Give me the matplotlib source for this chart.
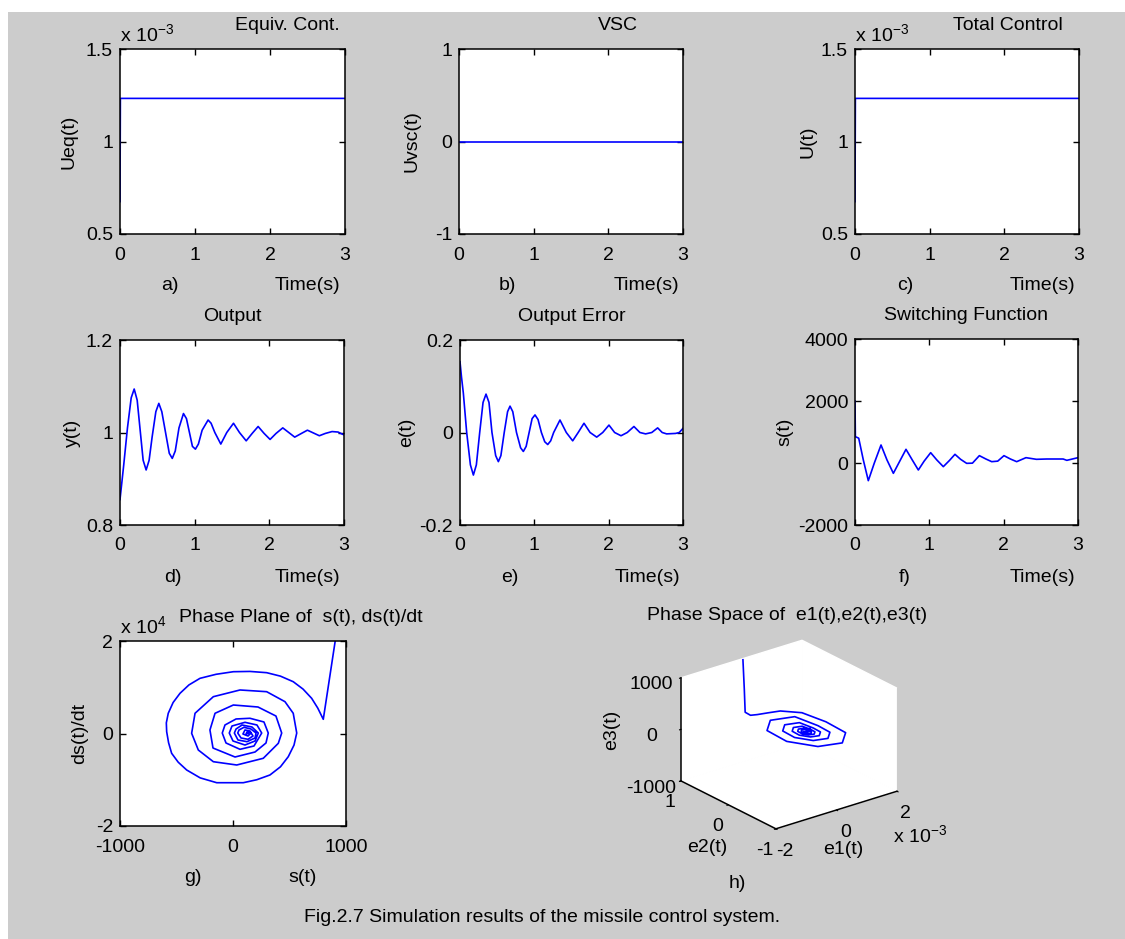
import numpy as np
import matplotlib
matplotlib.use('Agg')
import matplotlib.pyplot as plt
from matplotlib.patches import Rectangle

W, H = 1125, 939
FAM = ['Liberation Sans', 'DejaVu Sans']
FS = 14
plt.rcParams['font.family'] = FAM
plt.rcParams['font.size'] = FS
plt.rcParams['axes.unicode_minus'] = False
plt.rcParams['mathtext.fontset'] = 'custom'
plt.rcParams['mathtext.rm'] = FAM[0]
plt.rcParams['mathtext.default'] = 'regular'

BG = '#cccccc'
BLUE = '#0000ff'

# ---- data ----
# a) / c) equivalent and total control (values in units of 1e-3)
t_u = [0.0, 0.005, 3.0]
ueq = [0.675, 1.233, 1.233]
utot = [0.675, 1.233, 1.233]
# b) vsc
t_vsc = [0.0, 3.0]
uvsc = [0.0, 0.0]

# d) output
t_y = [0.00, 0.05, 0.10, 0.15, 0.19, 0.23, 0.27, 0.31, 0.35, 0.39, 0.43, 0.48,
       0.52, 0.56, 0.61, 0.66, 0.70, 0.74, 0.79, 0.85, 0.89, 0.93, 0.97, 1.01,
       1.05, 1.10, 1.18, 1.22, 1.27, 1.35, 1.43, 1.52, 1.60, 1.69, 1.77, 1.85,
       1.93, 2.01, 2.09, 2.18, 2.26, 2.34, 2.43, 2.51, 2.59, 2.67, 2.75, 2.84,
       2.92, 2.97, 3.00]
y_out = [0.855, 0.93, 1.01, 1.075, 1.094, 1.07, 1.005, 0.94, 0.919, 0.94, 0.99, 1.045,
         1.063, 1.045, 1.00, 0.955, 0.944, 0.96, 1.01, 1.041, 1.03, 1.00, 0.97, 0.964,
         0.975, 1.005, 1.027, 1.02, 1.00, 0.975, 1.00, 1.020, 1.00, 0.982, 0.998, 1.013,
         0.998, 0.985, 0.998, 1.010, 1.00, 0.990, 0.998, 1.005, 0.999, 0.993, 0.998, 1.002,
         1.001, 0.997, 0.995]

# e) output error
t_e = [0.00, 0.02, 0.045, 0.09, 0.14, 0.18, 0.22, 0.265, 0.31, 0.35, 0.39, 0.43,
       0.48, 0.516, 0.55, 0.595, 0.64, 0.673, 0.71, 0.76, 0.815, 0.852, 0.89, 0.93,
       0.97, 1.009, 1.05, 1.095, 1.14, 1.18, 1.22, 1.26, 1.345, 1.43, 1.516, 1.59,
       1.668, 1.75, 1.839, 1.92, 2.004, 2.08, 2.166, 2.25, 2.34, 2.42, 2.497, 2.58,
       2.659, 2.72, 2.78, 2.90, 2.95, 3.00]
e_out = [0.153, 0.12, 0.085, 0.0, -0.07, -0.092, -0.07, 0.0, 0.065, 0.083, 0.065, 0.0,
         -0.05, -0.063, -0.05, 0.0, 0.045, 0.057, 0.045, 0.0, -0.033, -0.041, -0.03, 0.0,
         0.03, 0.038, 0.028, 0.0, -0.02, -0.026, -0.018, 0.0, 0.027, 0.0, -0.018, 0.0,
         0.020, 0.0, -0.010, 0.0, 0.016, 0.0, -0.007, 0.0, 0.013, 0.0, -0.003, 0.0,
         0.010, 0.0, -0.003, -0.002, 0.0, 0.009]

# f) switching function
t_s = [0.000, 0.005, 0.05, 0.112, 0.179, 0.26, 0.35, 0.43, 0.516, 0.60, 0.686, 0.77,
       0.852, 0.93, 1.018, 1.10, 1.188, 1.27, 1.345, 1.42, 1.502, 1.58, 1.673, 1.76,
       1.839, 1.92, 2.004, 2.09, 2.175, 2.30, 2.44, 2.58, 2.80, 2.85, 3.00]
s_out = [2000, 850, 800, 97, -570, 0, 581, 100, -333, 50, 441, 100,
         -226, 60, 333, 100, -118, 80, 280, 120, -11, -5, 237, 130,
         43, 60, 237, 130, 43, 172, 119, 129, 129, 86, 172]

# g) phase plane s, ds/dt
s_pp = [920, 799, 750, 696, 620, 533, 420, 298, 150, 3, -150, -292, -390, -469, -530, -573, -590,
        -587, -570, -543, -485, -410, -290, -144, 91, 210, 327, 420, 489, 540,
        564, 533, 460, 298, 62, -174, -336, -366, -307, -174, 33, 268, 401,
        431, 380, 221, 3, -159, -204, -177, 18, 195, 292,
        312, 274, 150, 27, -71, -95, -62, 62, 186,
        254, 212, 106, -9, -33, 0, 106, 195,
        224, 168, 80, 27, 12, 44, 124, 195,
        204, 159, 97, 53, 42, 71, 133, 177,
        150, 106, 88, 133, 159, 124, 115, 133]
ds_pp = [22500, 3070, 5500, 7610, 9600, 11200, 12400, 13150, 13420, 13360, 12800, 11930, 10500, 8690, 6700, 4370, 2300,
         390, -2000, -4280, -6200, -7890, -9600, -10640, -10640, -10000, -8970, -7200, -5020, -2500,
         100, 4370, 6880, 9040, 9410, 7960, 4370, 40, -3570, -6100, -6810, -5360, -2120,
         100, 3780, 5730, 6160, 4370, 760, -3140, -5080, -4000, -2050,
         100, 2490, 3290, 3140, 1840, 100, -2050, -3420, -2700,
         100, 1840, 2420, 1620, 100, -1620, -2490, -1620,
         100, 1400, 1840, 970, 100, -1400, -1770, -970,
         100, 970, 1340, 760, 100, -970, -1250, -540,
         540, 760, -110, -540, 100, 320, -110, 0]

# h) phase space e1 (units of 1e-3), e2, e3
e1_ps = [0.00, 0.03, 0.05, -0.006, 0.158, 0.45, 0.779, 1.151,
         1.274, 1.236, 0.753, 0.106, -0.324, -0.286, 0.197, 0.844,
         0.954, 0.932, 0.642, 0.254, -0.004, 0.018, 0.308, 0.696,
         0.763, 0.749, 0.575, 0.342, 0.187, 0.201, 0.375, 0.608,
         0.651, 0.642, 0.536, 0.394, 0.299, 0.308, 0.414, 0.556,
         0.579, 0.574, 0.511, 0.427, 0.371, 0.376, 0.439, 0.523,
         0.56, 0.40, 0.52, 0.44, 0.50, 0.46, 0.49, 0.475]
e2_ps = [0.97, 0.96, 0.955, 0.807, 0.771, 0.73, 0.679, 0.461,
         0.033, -0.406, -0.644, -0.542, -0.159, 0.280, 0.518, 0.416,
         -0.005, -0.269, -0.412, -0.350, -0.121, 0.143, 0.286, 0.224,
         -0.028, -0.186, -0.272, -0.235, -0.098, 0.060, 0.146, 0.109,
         -0.042, -0.138, -0.191, -0.168, -0.084, 0.012, 0.065, 0.042,
         -0.051, -0.108, -0.139, -0.125, -0.075, -0.018, 0.013, -0.001,
         -0.09, -0.04, -0.12, -0.02, -0.09, -0.05, -0.07, -0.063]
e3_ps = [1000, 420, -20, 0, 0, 0, 0, 0,
         0, 0, 0, 0, 0, 0, 0, 0,
         0, 0, 0, 0, 0, 0, 0, 0,
         0, 0, 0, 0, 0, 0, 0, 0,
         0, 0, 0, 0, 0, 0, 0, 0,
         0, 0, 0, 0, 0, 0, 0, 0,
         60, -50, 40, -30, 30, -20, 10, 0]


def rect(x0, y0, x1, y1):
    return [x0 / W, 1 - y1 / H, (x1 - x0) / W, (y1 - y0) / H]


def panel(box, t, v, ylim, yticks, xlim, xticks, title, tpos, ylabel, ydx,
          tag, tagx, xlab, xlabx, expo=None):
    ax = fig.add_axes(rect(*box))
    ax.plot(t, v, color=BLUE, lw=1.2)
    ax.set_xlim(*xlim)
    ax.set_ylim(*ylim)
    ax.set_xticks(xticks)
    ax.set_yticks(yticks)
    ax.set_yticklabels([('%g' % y) for y in yticks])
    ax.tick_params(direction='in', top=True, right=True, length=4, width=1,
                   labelsize=FS)
    ax.tick_params(axis='x', pad=9)
    ax.tick_params(axis='y', pad=5)
    for sp in ax.spines.values():
        sp.set_linewidth(1.1)
    wpx = box[2] - box[0]
    hpx = box[3] - box[1]
    ax.set_title(title, x=tpos, pad=14, fontsize=FS)
    ax.set_ylabel(ylabel, va='center', fontsize=FS)
    ax.yaxis.set_label_coords(-ydx / wpx, 0.5)
    ax.text(tagx / wpx, -52 / hpx, tag, transform=ax.transAxes,
            ha='center', va='center', fontsize=FS)
    ax.text(xlabx / wpx, -52 / hpx, xlab, transform=ax.transAxes,
            ha='center', va='center', fontsize=FS)
    if expo is not None:
        ax.text(0.0, 1.02, 'x 10$^{%s}$' % expo, transform=ax.transAxes,
                ha='left', va='bottom', fontsize=FS)
    return ax


fig = plt.figure(figsize=(W / 100, H / 100), dpi=100)
fig.patch.set_facecolor('white')
fig.patches.append(Rectangle((8 / W, 0), 1, 1 - 12 / H, transform=fig.transFigure,
                             facecolor=BG, edgecolor='none', zorder=-10))

tx = [0, 1, 2, 3]
panel((120, 49, 345, 234), t_u, ueq, (0.5, 1.5), [0.5, 1, 1.5], (0, 3), tx,
      'Equiv. Cont.', 0.742, 'Ueq(t)', 51, 'a)', 50, 'Time(s)', 187, expo='-3')
panel((459, 49, 683, 234), t_vsc, uvsc, (-1, 1), [-1, 0, 1], (0, 3), tx,
      'VSC', 0.708, 'Uvsc(t)', 47, 'b)', 48, 'Time(s)', 187)
panel((855, 49, 1079, 234), t_u, utot, (0.5, 1.5), [0.5, 1, 1.5], (0, 3), tx,
      'Total Control', 0.683, 'U(t)', 47, 'c)', 50, 'Time(s)', 187, expo='-3')

panel((120, 340, 344, 525), t_y, y_out, (0.8, 1.2), [0.8, 1, 1.2], (0, 3), tx,
      'Output', 0.5, 'y(t)', 48, 'd)', 53, 'Time(s)', 187)
panel((460, 340, 683, 525), t_e, e_out, (-0.2, 0.2), [-0.2, 0, 0.2], (0, 3), tx,
      'Output Error', 0.5, 'e(t)', 53, 'e)', 50, 'Time(s)', 187)
panel((855, 339, 1078, 525), t_s, s_out, (-2000, 4000), [-2000, 0, 2000, 4000], (0, 3), tx,
      'Switching Function', 0.5, 's(t)', 70, 'f)', 50, 'Time(s)', 187)

panel((120, 641, 346, 826), s_pp, np.array(ds_pp) / 1e4, (-2, 2), [-2, 0, 2],
      (-1000, 1000), [-1000, 0, 1000],
      'Phase Plane of  s(t), ds(t)/dt', 0.80, 'ds(t)/dt', 40, 'g)', 73, 's(t)', 183,
      expo='4')

# h) 3-D phase space
S = 330
cx, cy = 784.5, 739.0
ax3 = fig.add_axes(rect(cx - S / 2, cy - S / 2, cx + S / 2, cy + S / 2), projection='3d')
ax3.set_proj_type('ortho')
ax3.view_init(elev=23.3, azim=-128.1)
ax3.set_box_aspect((1, 1, 0.73), zoom=0.72)
ax3.plot(e1_ps, e2_ps, e3_ps, color=BLUE, lw=1.2)
ax3.set_xlim(-2, 2)
ax3.set_ylim(-1, 1)
ax3.set_zlim(-1000, 1000)
ax3.set_xticks([-2, 0, 2])
ax3.set_yticks([-1, 0, 1])
ax3.set_zticks([-1000, 0, 1000])
ax3.grid(False)
ax3.set_facecolor('none')
for axis in (ax3.xaxis, ax3.yaxis, ax3.zaxis):
    axis.set_pane_color((1, 1, 1, 1))
    axis.pane.set_edgecolor('white')
    axis.line.set_color('black')
    axis.line.set_linewidth(1.1)
    axis._axinfo['tick']['inward_factor'] = 0.15
    axis._axinfo['tick']['outward_factor'] = 0.0
ax3.tick_params(labelsize=FS)
ax3.zaxis.set_tick_params(pad=9)
fig.text(612 / W, 1 - 730 / H, 'e3(t)', rotation=90, ha='center', va='center', fontsize=FS)
fig.text(707 / W, 1 - 847 / H, 'e2(t)', ha='center', va='center', fontsize=FS)
fig.text(843 / W, 1 - 850 / H, 'e1(t)', ha='center', va='center', fontsize=FS)
fig.text(787 / W, 1 - 615 / H, 'Phase Space of  e1(t),e2(t),e3(t)', ha='center',
         va='center', fontsize=FS)
fig.text(737 / W, 1 - 883 / H, 'h)', ha='center', va='center', fontsize=FS)
fig.text(893 / W, 1 - 835 / H, 'x 10$^{-3}$', ha='left', va='center', fontsize=FS)

fig.text(542 / W, 1 - 918 / H, 'Fig.2.7 Simulation results of the missile control system.',
         ha='center', va='center', fontsize=FS)

fig.savefig('out.png', dpi=100, facecolor=fig.get_facecolor())
